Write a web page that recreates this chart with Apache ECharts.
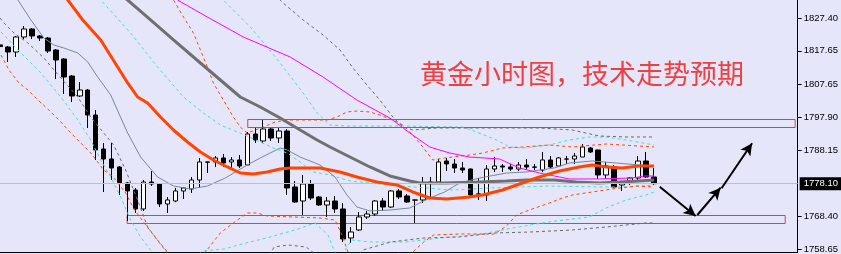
<!DOCTYPE html>
<html><head><meta charset="utf-8">
<script src="https://cdn.jsdelivr.net/npm/echarts@6/dist/echarts.min.js"></script>
<style>html,body{margin:0;padding:0;background:#e6e6fa;}#c{width:841px;height:254px;}</style>
</head><body><div id="c"></div><script>
// ---- candle data (index 0..82) ----
const opens  = [1819.4,1818.77,1817.28,1821.75,1824.13,1822.05,1821.45,1817.88,1815.20,1810.14,1804.19,1805.97,1798.53,1788.41,1785.44,1783.06,1778.30,1776.21,1770.56,1778.59,1778.00,1772.05,1772.94,1775.92,1776.51,1779.19,1784.55,1784.55,1785.74,1784.55,1785.14,1783.65,1792.88,1790.80,1794.37,1791.69,1793.77,1777.11,1772.94,1778.00,1774.13,1771.75,1772.94,1770.56,1761.93,1764.31,1768.18,1769.07,1772.94,1771.15,1775.92,1774.43,1773.24,1773.24,1778.45,1778.59,1784.84,1783.95,1782.76,1782.46,1775.02,1774.72,1782.46,1783.35,1783.06,1782.46,1783.65,1783.06,1782.16,1785.14,1783.35,1785.44,1785.44,1786.03,1788.71,1788.12,1780.68,1783.06,1777.70,1778.59,1779.78,1784.84,1780.08];
const closes = [1818.9,1817.28,1821.75,1824.13,1822.05,1821.45,1817.58,1814.90,1809.84,1804.19,1805.97,1798.53,1788.12,1785.44,1782.76,1778.30,1775.92,1770.56,1778.59,1778.00,1772.05,1773.24,1775.92,1776.81,1779.19,1784.55,1784.50,1785.74,1784.25,1785.14,1783.35,1792.88,1791.09,1794.37,1791.69,1793.77,1776.81,1772.64,1778.00,1773.83,1771.75,1772.94,1770.56,1761.63,1763.71,1768.18,1769.07,1772.94,1771.15,1775.92,1774.13,1772.64,1773.20,1778.30,1778.59,1784.55,1783.95,1782.76,1782.16,1774.72,1775.00,1782.46,1783.35,1783.06,1782.46,1783.65,1783.06,1783.00,1785.14,1783.06,1785.74,1785.40,1786.33,1789.01,1787.52,1780.68,1783.35,1777.11,1778.59,1779.78,1784.84,1780.08,1778.10];
const lows   = [1818.5,1814.31,1815.80,1821.15,1821.15,1820.56,1816.99,1809.25,1804.79,1802.40,1803.89,1794.66,1785.14,1775.62,1779.19,1774.72,1766.99,1769.37,1769.96,1777.40,1771.15,1769.37,1772.60,1773.54,1775.32,1776.81,1781.27,1783.06,1783.06,1782.76,1782.76,1783.65,1790.20,1790.20,1790.80,1790.20,1774.72,1772.34,1768.77,1773.24,1771.45,1768.18,1769.37,1760.70,1760.44,1764.01,1767.58,1768.47,1769.96,1770.86,1773.54,1772.34,1766.39,1772.34,1774.13,1778.30,1781.87,1781.27,1781.27,1774.50,1773.24,1772.94,1781.57,1781.57,1781.87,1781.87,1782.16,1782.16,1781.57,1782.46,1783.06,1783.95,1783.95,1786.03,1787.22,1779.49,1779.49,1776.81,1775.92,1777.70,1779.19,1779.78,1777.70];
const highs  = [1820.0,1819.07,1822.05,1825.02,1824.43,1822.34,1821.75,1818.18,1815.50,1810.44,1808.35,1806.27,1800.02,1790.20,1790.20,1783.35,1778.59,1776.81,1779.19,1781.87,1778.00,1774.13,1776.81,1777.00,1780.08,1785.74,1784.60,1786.33,1786.93,1786.03,1786.63,1793.47,1794.66,1797.05,1794.66,1794.66,1794.37,1778.89,1780.68,1779.19,1774.43,1774.13,1774.43,1772.34,1765.20,1769.67,1769.96,1773.24,1773.83,1776.21,1776.51,1775.02,1773.40,1780.08,1780.08,1785.44,1785.74,1785.44,1784.55,1782.60,1779.78,1783.65,1786.03,1783.95,1783.95,1784.55,1785.44,1783.95,1787.52,1786.33,1786.03,1786.33,1787.22,1789.90,1789.01,1788.20,1784.55,1783.65,1778.70,1780.08,1786.33,1787.52,1782.76];

const yTicks = [1827.40,1817.65,1807.65,1797.90,1788.15,1768.40,1758.65];
const lastPrice = 1778.10;
const titleText = '黄金小时图，技术走势预期';

// ---- indicator lines: [index, price] ----
const maOrange = [[8.125,1834.25],[8.5,1832.76],[10.375,1826.81],[12.625,1820.86],[14.75,1812.82],[16,1808.06],[17.25,1803.89],[18.5,1802.11],[20.125,1797.94],[21.75,1794.07],[23.5,1790.50],[25.125,1787.52],[26.75,1785.14],[28.5,1783.06],[30.125,1781.27],[31.75,1780.97],[33.5,1781.57],[35.125,1782.46],[36.375,1782.76],[40.125,1782.76],[42.625,1781.57],[44.75,1780.08],[47.25,1778.59],[49.75,1777.70],[51.75,1775.62],[53.875,1773.83],[56,1773.54],[58.875,1774.13],[60.5,1774.72],[63,1776.21],[65.5,1778.30],[67.625,1780.08],[70.125,1781.87],[72.625,1783.06],[74.25,1783.65],[76,1783.06],[78,1782.76],[80.125,1783.35],[82,1783.35]];
const maGray = [[15.125,1834.25],[16,1832.76],[18.875,1826.81],[21.75,1820.86],[25.125,1814.01],[27.625,1808.95],[30.125,1803.89],[32.625,1800.92],[35.125,1797.64],[37.625,1794.07],[39.75,1791.09],[41.375,1789.01],[43.875,1786.03],[46.375,1783.06],[48.875,1780.38],[51.375,1778.89],[52.625,1778.30],[55.75,1778.30],[60.125,1778.59],[63.5,1778.89],[66,1779.19],[69.5,1779.19],[72.25,1778.59],[75.125,1778.30],[77.625,1778.59],[80.125,1778.89],[82,1779.19]];
const maMagenta = [[21.375,1835.14],[22.25,1832.76],[26,1827.70],[30.5,1821.75],[36.375,1815.80],[40.5,1809.84],[44.75,1802.98],[48.875,1797.64],[51.375,1793.18],[53.875,1789.01],[56.375,1787.22],[58.875,1786.03],[62.625,1785.44],[65.125,1782.76],[67.625,1781.27],[69.5,1780.38],[71.375,1779.49],[75.125,1779.49],[79.25,1779.78],[80.75,1780.38],[82,1780.38]];
const maThin = [[1.625,1835.14],[2.25,1832.76],[3.875,1826.81],[5.5,1821.45],[6.75,1819.37],[8,1818.47],[9.75,1816.99],[11,1814.31],[12.25,1809.84],[13.875,1804.49],[16,1793.18],[17.625,1786.03],[19.75,1780.08],[21.75,1777.40],[23.875,1776.51],[26,1777.40],[28.25,1779.78],[31,1783.65],[32.625,1785.74],[35.125,1788.71],[36,1788.12],[37.625,1786.03],[40.125,1783.65],[42,1780.08],[43.5,1774.72],[44.75,1771.15],[46.375,1769.96],[48.875,1770.26],[51.375,1770.86],[52.625,1772.34],[53.875,1773.83],[55.75,1775.62],[57.625,1778.30],[60.125,1779.78],[63.5,1781.27],[66,1781.57],[69.5,1782.76],[71.375,1784.25],[74.25,1784.84],[77.25,1784.25],[80.125,1783.65],[82,1783.35]];

const cyanA = [[12,1835.14],[12.625,1832.76],[16.375,1822.94],[19.75,1812.82],[23,1803.89],[25.5,1799.13],[27.625,1795.56],[29.75,1793.47],[31,1792.28],[32.625,1790.50],[34.25,1788.71],[36,1787.22],[37.625,1784.55],[39.25,1781.57],[41.375,1780.68],[43.875,1778.89],[50.125,1777.40],[56.75,1776.21],[61.375,1776.81],[65.5,1777.11],[68.875,1777.40],[75.125,1777.11],[78.875,1777.11],[82,1777.70]];
const cyanB = [[27.625,1833.65],[28,1832.76],[31.375,1824.72],[33.5,1818.77],[35.5,1812.82],[38,1805.08],[39.75,1799.13],[41.375,1795.56],[43.5,1795.26],[50.125,1795.26],[58,1794.96],[59.75,1793.47],[62.25,1791.09],[63.875,1789.01],[65.5,1788.71],[68.875,1789.61],[71.375,1791.09],[73.875,1791.99],[76,1791.99],[78.5,1791.09],[82,1789.61]];
const cyanC = [[0.125,1823.24],[2.625,1816.99],[5.125,1811.03],[7.625,1803.89],[9.75,1797.05],[11.375,1791.09],[12.625,1785.14],[13.875,1780.08],[15.125,1774.13],[16.375,1767.28],[17.625,1762.23],[18.875,1758.35],[19.875,1754.78]];
const cyanD = [[23.875,1754.78],[25.375,1758.06],[28.125,1758.65],[29.875,1759.84],[33.875,1762.23],[37,1764.31],[39.5,1766.39],[41.125,1762.82],[42.375,1755.38]];
const cyanE = [[43.25,1758.35],[44.125,1761.33],[46.375,1760.74],[50.875,1760.74],[55.25,1761.93],[59.75,1762.82],[64.25,1764.90],[68.75,1766.69],[73.875,1768.18],[76,1770.86],[78.5,1773.24],[81,1774.72],[82,1775.62]];

const orangeA = [[21.375,1834.25],[21.75,1832.76],[23,1827.70],[24.25,1822.94],[25.125,1817.88],[26,1812.82],[26.75,1808.06],[28,1803.00],[29.25,1797.94],[30.125,1794.96],[31,1793.18],[32,1794.07],[33,1794.96],[34.5,1796.45],[36,1797.05],[41,1797.05],[42.25,1797.94],[43.5,1799.43],[44.75,1799.72],[46.375,1799.43],[47.625,1798.53],[49.25,1797.05],[50.5,1795.56],[51.75,1792.58],[53,1789.01],[54.25,1785.14],[55.75,1785.74],[58.875,1786.63],[60.5,1787.22],[63,1788.71],[65.5,1789.01],[68.875,1789.61],[71.75,1789.01],[76,1789.90],[82,1789.01]];
const orangeB = [[0.125,1816.39],[1.125,1811.93],[2.375,1808.06],[3.5,1805.97],[4.75,1803.00],[6.125,1800.02],[7.625,1796.45],[8.875,1793.18],[10.375,1789.61],[11.375,1787.22],[12.25,1784.55],[13,1782.16],[13.875,1780.68],[14.5,1779.19],[15.75,1775.32],[16.875,1770.26],[18.75,1764.31],[20.875,1757.76],[21.625,1754.78]];
const orangeC = [[24.5,1754.78],[25.75,1757.76],[27.625,1763.41],[29.25,1766.39],[31,1769.37],[32.25,1769.37],[33.5,1768.47],[36.75,1768.18],[40.125,1767.88],[42,1767.28],[42.875,1762.82],[43.625,1757.76],[44.125,1754.78]];
const orangeD = [[51.125,1754.78],[51.75,1757.76],[53.125,1760.74],[54.375,1762.82],[57.625,1763.12],[62,1763.12],[63.5,1765.50],[64.75,1768.77],[66.375,1770.26],[68.875,1772.34],[70.5,1773.83],[71.75,1774.72],[74.25,1775.62],[76.75,1776.51],[79.75,1777.40],[82,1777.11]];

const grayA = [[34.5,1834.25],[35.5,1831.87],[38,1826.81],[40.5,1822.34],[42.625,1817.88],[44.25,1812.52],[46,1807.46],[47.625,1803.00],[49.25,1797.94],[50.5,1794.96],[51.75,1794.07],[54.75,1794.66],[58.875,1794.66],[67.625,1794.66],[71.75,1794.07],[75.125,1792.28],[78.5,1791.99],[82,1791.99]];
const grayB = [[0,1827.40],[0.5,1825.91],[1.75,1822.94],[3.5,1819.96],[5.5,1815.50],[7.625,1809.55],[9.75,1803.89],[11.375,1797.94],[13,1793.18],[14.25,1789.61],[15.75,1782.16],[17.25,1773.24],[18.5,1765.20],[19.75,1761.33],[21,1757.76],[22,1754.78]];
const grayC = [[33.375,1755.38],[34.375,1759.25],[36.125,1759.84],[38.375,1759.25],[39.5,1757.16]];
const grayD = [[44.5,1755.97],[45.5,1758.35],[49,1760.74],[53.125,1761.93],[57.5,1762.23],[62,1763.41],[66.5,1763.71],[71.75,1764.31],[76,1765.20],[81,1766.39],[82,1766.39]];

// ---- annotations ----
const upperBox = [[31.0625,1797.19],[99.6875,1794.81]];
const lowerBox = [[15.9375,1768.62],[98.4375,1766.24]];
const arrowSegs = [
  [[82.71,1777.19],[87.21,1768.47]],
  [[87.42,1768.77],[90.34,1776.90]],
  [[90.46,1776.72],[94.29,1790.11]]
];

const N = 101;
const cats = Array.from({length:N}, (_, i) => String(i));
const candles = opens.map((o, i) => [o, closes[i], lows[i], highs[i]]);

const dash = [3,3];
function lineS(data, color, width, type, z) {
  return {type:'line', xAxisIndex:1, yAxisIndex:0, data:data, showSymbol:false, symbol:'none',
    silent:true, animation:false, z:z,
    lineStyle:{color:color, width:width, type:type}};
}

const series = [
  {type:'candlestick', data:candles, barWidth:5, z:2, silent:true,
   itemStyle:{color:'#ffffff', color0:'#000000', borderColor:'#000000', borderColor0:'#000000', borderWidth:1},
   markLine:{symbol:'none', silent:true, animation:false, data:[{yAxis:lastPrice}],
     lineStyle:{color:'#c0c0c0', type:'solid', width:1},
     label:{position:'end', formatter:lastPrice.toFixed(2), backgroundColor:'#000', color:'#fff',
       fontSize:9.5, fontFamily:'Liberation Sans', padding:[2,4,1,4], distance:2}}},
  lineS(cyanA, '#40e0d0', 1, dash, 3),
  lineS(cyanB, '#40e0d0', 1, dash, 3),
  lineS(cyanC, '#40e0d0', 1, dash, 3),
  lineS(cyanD, '#40e0d0', 1, dash, 3),
  lineS(cyanE, '#40e0d0', 1, dash, 3),
  lineS(orangeA, '#ff4500', 1, dash, 3),
  lineS(orangeB, '#ff4500', 1, dash, 3),
  lineS(orangeC, '#ff4500', 1, dash, 3),
  lineS(orangeD, '#ff4500', 1, dash, 3),
  lineS(grayA, '#696969', 1, dash, 3),
  lineS(grayB, '#696969', 1, dash, 3),
  lineS(grayC, '#696969', 1, dash, 3),
  lineS(grayD, '#696969', 1, dash, 3),
  lineS(maThin, '#778899', 1, 'solid', 4),
  lineS(maMagenta, '#ff00ff', 1, 'solid', 4),
  lineS(maGray, '#707070', 3, 'solid', 4),
  lineS(maOrange, '#ff4500', 3, 'solid', 5),
  {type:'line', xAxisIndex:1, yAxisIndex:0, data:[], silent:true, z:6, animation:false,
   markArea:{silent:true, animation:false,
     itemStyle:{color:'rgba(0,0,0,0)', borderColor:'#e83c3c', borderWidth:1},
     data:[[{coord:upperBox[0]},{coord:upperBox[1]}],[{coord:lowerBox[0]},{coord:lowerBox[1]}]]},
   markLine:{silent:true, animation:false, symbol:['none','arrow'], symbolSize:[9,12],
     lineStyle:{color:'#000', width:2, type:'solid'}, label:{show:false},
     data: arrowSegs.map(s => [{coord:s[0]},{coord:s[1]}])}}
];

const chart = echarts.init(document.getElementById('c'), null, {renderer:'canvas'});
chart.setOption({
  animation:false,
  backgroundColor:'#e6e6fa',
  grid:{left:-1, top:0, width:800, height:252, containLabel:false},
  xAxis:[
    {type:'category', data:cats, boundaryGap:false,
     axisLine:{show:true, onZero:false, lineStyle:{color:'#000', width:1}}, axisTick:{show:false},
     axisLabel:{show:false}, splitLine:{show:false}},
    {type:'value', min:0, max:100, show:false, splitLine:{show:false}}
  ],
  yAxis:[{type:'value', position:'right', min:1757.76, max:1832.76, scale:true,
    axisLine:{show:true, onZero:false, lineStyle:{color:'#000', width:1}},
    axisTick:{show:true, customValues:yTicks, length:4, lineStyle:{color:'#000'}},
    axisLabel:{customValues:yTicks, formatter:v => v.toFixed(2), color:'#000', fontSize:9.5,
      fontFamily:'Liberation Sans', margin:6},
    splitLine:{show:false}}],
  graphic:[{type:'text', left:420, top:60, z:10, silent:true,
    style:{text:titleText, fill:'#ee4040', font:'27px "Noto Sans CJK SC"'}}],
  series: series
});
</script></body></html>
